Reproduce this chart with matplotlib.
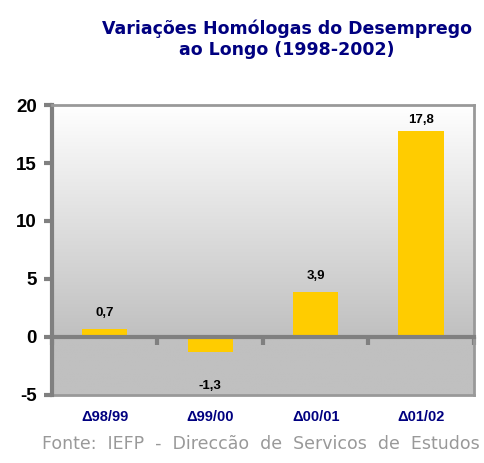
import matplotlib
matplotlib.use("Agg")
import matplotlib.pyplot as plt
import numpy as np

categories = ["\u039498/99", "\u039499/00", "\u039400/01", "\u039401/02"]
values = [0.7, -1.3, 3.9, 17.8]
value_labels = ["0,7", "-1,3", "3,9", "17,8"]
yticks = [-5, 0, 5, 10, 15, 20]

plt.rcParams['font.family'] = ['Liberation Sans', 'DejaVu Sans']

fig = plt.figure(figsize=(4.84, 4.63), dpi=100)
ax = fig.add_axes([0.1074, 0.1469, 0.979 - 0.1074, 0.7732 - 0.1469])

ymin, ymax = -5, 20
ax.set_xlim(-0.5, 3.5)
ax.set_ylim(ymin, ymax)

# gradient background
ys = np.linspace(ymax, ymin, 400)
frac = np.clip(ys / ymax, 0, 1)
top = np.array([1.0, 1.0, 1.0])
bot = np.array([0xc0, 0xc0, 0xc0]) / 255
col = bot[None, :] + (top - bot)[None, :] * frac[:, None]
img = np.repeat(col[:, None, :], 2, axis=1)
ax.imshow(img, extent=[-0.5, 3.5, ymin, ymax], aspect='auto', zorder=0,
          interpolation='bilinear')

x = np.arange(len(categories))
bars = ax.bar(x, values, width=0.43, color='#FFCC00', zorder=2)

label_offsets = [7, -20, 7, 3]
for xi, v, lab, off in zip(x, values, value_labels, label_offsets):
    ax.annotate(lab, (xi, v), xytext=(0, off), textcoords='offset points',
                ha='center', va='bottom' if v >= 0 else 'top',
                fontsize=9.5, fontweight='bold')

gray = '#808080'
# zero axis with boundary ticks
ax.spines['bottom'].set_position(('data', 0))
ax.spines['bottom'].set_color(gray)
ax.spines['bottom'].set_linewidth(3)
ax.spines['bottom'].set_zorder(3)
ax.set_xticks(np.arange(-0.5, 4, 1))
ax.tick_params(axis='x', direction='out', length=6, width=3, color=gray,
               labelbottom=False)

ax.spines['left'].set_color(gray)
ax.spines['left'].set_linewidth(3)
ax.spines['top'].set_color('#999999')
ax.spines['top'].set_linewidth(2)
ax.spines['right'].set_color('#999999')
ax.spines['right'].set_linewidth(2)

ax.set_yticks(yticks)
ax.set_yticklabels([str(t) for t in yticks])
ax.tick_params(axis='y', direction='out', length=6, width=3, color=gray,
               labelsize=13.5, pad=5)
for t in ax.get_yticklabels():
    t.set_fontweight('bold')

sec = ax.secondary_xaxis(0)
sec.spines['bottom'].set_color('#999999')
sec.spines['bottom'].set_linewidth(2)
sec.set_xticks(x)
sec.set_xticklabels(categories)
sec.tick_params(axis='x', length=0, pad=11, labelsize=10.5, labelcolor='#000080')
for t in sec.get_xticklabels():
    t.set_fontweight('bold')

fig.text(0.593, 0.915, "Variações Homólogas do Desemprego\nao Longo (1998-2002)",
         ha='center', va='center', fontsize=12.5, fontweight='bold',
         color='#000080', linespacing=1.25, family=['DejaVu Sans'])

fig.text(0.992, 0.022, "Fonte:  IEFP  -  Direccão  de  Servicos  de  Estudos",
         ha='right', va='bottom', fontsize=12.5, color='#999999',
         family=['DejaVu Sans'])

fig.savefig("out.png", dpi=100)
